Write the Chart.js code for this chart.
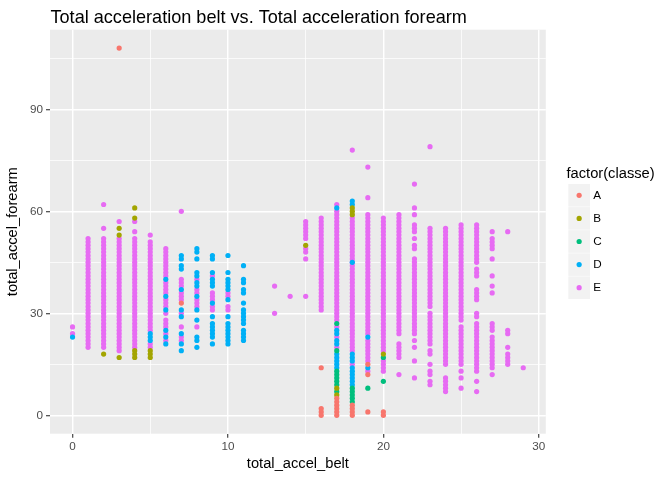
<!DOCTYPE html>
<html>
<head>
<meta charset="utf-8">
<script src="https://cdn.jsdelivr.net/npm/chart.js@4/dist/chart.umd.min.js"></script>
<style>
html,body{margin:0;padding:0;background:#ffffff;}
#wrap{width:672px;height:480px;}
</style>
</head>
<body>
<div id="wrap"><canvas id="c" width="672" height="480"></canvas></div>
<script>
// ---- text ----
const chartTitle = "Total acceleration belt vs. Total acceleration forearm";
const xTitle = "total_accel_belt";
const yTitle = "total_accel_forearm";
const legendTitle = "factor(classe)";
const classNames = ["A", "B", "C", "D", "E"];
const classColors = ["#F8766D", "#A3A500", "#00BF7D", "#00B0F6", "#E76BF3"];

// ---- ticks ----
const xMajorTicks = [0, 10, 20, 30];
const xMinorTicks = [5, 15, 25];
const yMajorTicks = [0, 30, 60, 90];
const yMinorTicks = [15, 45, 75, 105];

// ---- data: [total_accel_belt, [total_accel_forearm values]] per class ----
const classA = [
  [3, [108]],
  [7, [33]],
  [16, [14, 2, 1, 0]],
  [17, [5, 4, 3, 2, 1, 0]],
  [18, [3, 2, 1, 0]],
  [19, [15, 12, 1]],
  [20, [1, 0]]
];
const classB = [
  [2, [18]],
  [3, [55, 53, 17]],
  [4, [61, 58, 19, 18, 17]],
  [5, [19, 18, 17]],
  [15, [50]],
  [17, [8, 6]],
  [18, [61, 60, 59]],
  [20, [18]]
];
const classC = [
  [17, [27, 19, 13, 12, 11, 10, 9, 7]],
  [18, [8, 7, 6, 5, 4]],
  [19, [8]],
  [20, [17, 10]]
];
const classD = [
  [0, [23]],
  [5, [24, 23, 22]],
  [6, [40, 35, 31, 25, 23, 21]],
  [7, [47, 46, 44, 43, 37, 31, 29, 24, 21, 19]],
  [8, [49, 48, 46, 42, 41, 39, 38, 35, 31, 28, 23, 22, 20]],
  [9, [47, 46, 42, 40, 39, 38, 33, 29, 27, 26, 25, 24, 23, 21]],
  [10, [47, 42, 40, 39, 38, 37, 34, 29, 27, 26, 25, 24, 23, 22, 21]],
  [11, [44, 40, 39, 37, 36, 33, 31, 30, 29, 28, 27, 25, 24, 23, 22]],
  [17, [61, 25, 24, 22, 21, 18, 17, 16, 15, 14]],
  [18, [63, 62, 45, 18, 17, 16, 14, 13, 12, 11, 10, 9]],
  [19, [23, 14]]
];
const classE = [
  [0, [26, 24]],
  [1, [20,21,22,23,24,25,26,27,28,29,30,31,32,33,34,35,36,37,38,39,40,41,42,43,44,45,46,47,48,49,50,51,52]],
  [2, [62,55,20,21,22,23,24,25,26,27,28,29,30,31,32,33,34,35,36,37,38,39,40,41,42,43,44,45,46,47,48,49,50,51,52]],
  [3, [57,19,20,21,22,23,24,25,26,27,28,29,30,31,32,33,34,35,36,37,38,39,40,41,42,43,44,45,46,47,48,49,50,51,52]],
  [4, [57,54,20,21,22,23,24,25,26,27,28,29,30,31,32,33,34,35,36,37,38,39,40,41,42,43,44,45,46,47,48,49,50,51,52]],
  [5, [53,25,26,27,28,29,30,31,32,33,34,35,36,37,38,39,40,41,42,43,44,45,46,47,48,49,50,51,21,20]],
  [6, [49,48,47,46,45,44,43,42,41,39,38,37,36,34,33,32,30,28,27,26,24,22]],
  [7, [60,40,39,38,36,35,34,30,26,23,22]],
  [8, [40,37,36,34,33,32,26]],
  [9, [41,36,35,34,32,31]],
  [10, [36,35,32,31]],
  [13, [38,30]],
  [14, [35]],
  [15, [57,56,55,54,53,52,49,48,46,35]],
  [16, [31,32,33,34,35,36,37,38,39,40,41,42,43,44,45,46,47,48,49,50,51,52,53,54,55,56,57,58]],
  [17, [62,28,29,30,31,32,33,34,35,36,37,38,39,40,41,42,43,44,45,46,47,48,49,50,51,52,53,54,55,56,57,58,59,60,26,23,20]],
  [18, [78,19,20,21,22,23,24,25,26,27,28,29,30,31,32,33,34,35,36,37,38,39,40,41,42,43,44,45,46,47,48,49,50,51,52,53,54,55,56,57,58,15]],
  [19, [73,64,24,25,26,27,28,29,30,31,32,33,34,35,36,37,38,39,40,41,42,43,44,45,46,47,48,49,50,51,52,53,54,55,56,57,58,59,22,21,20,19,18,17,16,13]],
  [20, [19,20,21,22,23,24,25,26,27,28,29,30,31,32,33,34,35,36,37,38,39,40,41,42,43,44,45,46,47,48,49,50,51,52,53,54,55,56,57,58,16,15,14,13]],
  [21, [24,25,26,27,28,29,30,31,32,33,34,35,36,37,38,39,40,41,42,43,44,45,46,47,48,49,50,51,52,53,54,55,56,57,58,59,21,20,19,18,17,12]],
  [22, [68,61,59,56,55,54,52,50,49,24,25,26,27,28,29,30,31,32,33,34,35,36,37,38,39,40,41,42,43,44,45,46,22,20,16,11]],
  [23, [79,32,33,34,35,36,37,38,39,40,41,42,43,44,45,46,47,48,49,50,51,52,53,54,55,21,22,23,24,25,26,27,28,29,30,19,18,15,13,12,10,9]],
  [24, [15,16,17,18,19,20,21,22,23,24,25,26,27,28,29,30,31,32,33,34,35,36,37,38,39,40,41,42,43,44,45,46,47,48,49,50,51,52,53,54,55,11,10,9,8,7]],
  [25, [28,29,30,31,32,33,34,35,36,37,38,39,40,41,42,43,44,45,46,47,48,49,50,51,52,53,54,55,56,15,16,17,18,19,20,21,22,23,24,25,26,13,11,8]],
  [26, [45,46,47,48,49,50,51,52,53,54,55,56,43,42,41,37,36,35,34,30,29,13,14,15,16,17,18,19,20,21,22,23,24,25,26,27,10,7]],
  [27, [54,52,51,50,49,46,41,38,36,27,26,25,14,15,16,17,18,19,20,21,22,23,12]],
  [28, [54,25,24,20,18,17,16,15]],
  [29, [14]]
];
const classData = [classA, classB, classC, classD, classE];

// ---- build datasets ----
function toPoints(cols) {
  const pts = [];
  cols.forEach(([x, ys]) => ys.forEach(y => pts.push({ x: x, y: y })));
  return pts;
}
const datasets = classNames.map((name, i) => ({
  label: name,
  data: toPoints(classData[i]),
  backgroundColor: classColors[i],
  borderWidth: 0,
  pointRadius: 2.6,
  pointHoverRadius: 2.6,
  order: name === "E" ? 10 : 0
}));

// ---- layout constants ----
const PANEL = { left: 50, right: 545.8, top: 29.7, bottom: 433.7 };
const FONT = "'Liberation Sans', Arial, sans-serif";

const bgPlugin = {
  id: "panelBg",
  beforeDraw(chart) {
    const { ctx, chartArea: a } = chart;
    ctx.save();
    ctx.fillStyle = "#ffffff";
    ctx.fillRect(0, 0, chart.width, chart.height);
    ctx.fillStyle = "#EBEBEB";
    ctx.fillRect(a.left, a.top, a.right - a.left, a.bottom - a.top);
    ctx.restore();
  }
};

const textPlugin = {
  id: "texts",
  afterDraw(chart) {
    const { ctx, chartArea: a } = chart;
    ctx.save();
    ctx.fillStyle = "#000000";
    // title
    ctx.font = "18.1px " + FONT;
    ctx.textAlign = "left";
    ctx.textBaseline = "alphabetic";
    ctx.fillText(chartTitle, a.left + 0.5, 22.5);
    // x title
    ctx.font = "14.7px " + FONT;
    ctx.textAlign = "center";
    ctx.textBaseline = "middle";
    ctx.fillText(xTitle, (a.left + a.right) / 2, 463.5);
    // y title
    ctx.save();
    ctx.translate(13, (a.top + a.bottom) / 2);
    ctx.rotate(-Math.PI / 2);
    ctx.fillText(yTitle, 0, 0);
    ctx.restore();
    // legend
    ctx.textAlign = "left";
    ctx.font = "14.7px " + FONT;
    ctx.fillText(legendTitle, 566.5, 173.5);
    const keyX = 568.3, keyW = 21.7, keyH = 22.6, keyTop = 184, step = 23.1;
    classNames.forEach((name, i) => {
      const ty = keyTop + i * step;
      ctx.fillStyle = "#F2F2F2";
      ctx.fillRect(keyX, ty, keyW, keyH);
      ctx.fillStyle = classColors[i];
      ctx.beginPath();
      ctx.arc(keyX + keyW / 2, ty + keyH / 2, 2.6, 0, Math.PI * 2);
      ctx.fill();
      ctx.fillStyle = "#000000";
      ctx.font = "11.7px " + FONT;
      ctx.textBaseline = "middle";
      ctx.fillText(name, 593.3, ty + keyH / 2 + 0.5);
    });
    ctx.restore();
  }
};

function isMajor(list, v) { return list.indexOf(v) !== -1; }

new Chart(document.getElementById("c"), {
  type: "scatter",
  data: { datasets: datasets },
  options: {
    responsive: false,
    animation: false,
    devicePixelRatio: 1,
    events: [],
    layout: { padding: { left: 0, right: 672 - PANEL.right, top: PANEL.top, bottom: 0 } },
    plugins: { legend: { display: false }, tooltip: { enabled: false }, title: { display: false } },
    scales: {
      x: {
        type: "linear",
        min: -1.45,
        max: 30.45,
        afterBuildTicks(scale) {
          scale.ticks = xMajorTicks.concat(xMinorTicks).sort((p, q) => p - q).map(v => ({ value: v }));
        },
        afterFit(scale) { scale.height = 480 - PANEL.bottom; },
        border: { display: false },
        grid: {
          color: "#ffffff",
          lineWidth: ctx => (ctx.tick && isMajor(xMajorTicks, ctx.tick.value)) ? 1.45 : 0.75,
          drawTicks: true,
          tickLength: 4,
          tickWidth: 1.1,
          tickColor: ctx => (ctx.tick && isMajor(xMajorTicks, ctx.tick.value)) ? "#333333" : "rgba(0,0,0,0)"
        },
        ticks: {
          autoSkip: false,
          maxRotation: 0,
          padding: 2,
          color: "#4D4D4D",
          font: { family: FONT, size: 11.7 },
          callback: v => isMajor(xMajorTicks, v) ? String(v) : ""
        }
      },
      y: {
        type: "linear",
        min: -5.4,
        max: 113.4,
        afterBuildTicks(scale) {
          scale.ticks = yMajorTicks.concat(yMinorTicks).sort((p, q) => p - q).map(v => ({ value: v }));
        },
        afterFit(scale) { scale.width = PANEL.left; },
        border: { display: false },
        grid: {
          color: "#ffffff",
          lineWidth: ctx => (ctx.tick && isMajor(yMajorTicks, ctx.tick.value)) ? 1.45 : 0.75,
          drawTicks: true,
          tickLength: 4,
          tickWidth: 1.1,
          tickColor: ctx => (ctx.tick && isMajor(yMajorTicks, ctx.tick.value)) ? "#333333" : "rgba(0,0,0,0)"
        },
        ticks: {
          autoSkip: false,
          padding: 3,
          color: "#4D4D4D",
          font: { family: FONT, size: 11.7 },
          callback: v => isMajor(yMajorTicks, v) ? String(v) : ""
        }
      }
    }
  },
  plugins: [bgPlugin, textPlugin]
});
</script>
</body>
</html>
